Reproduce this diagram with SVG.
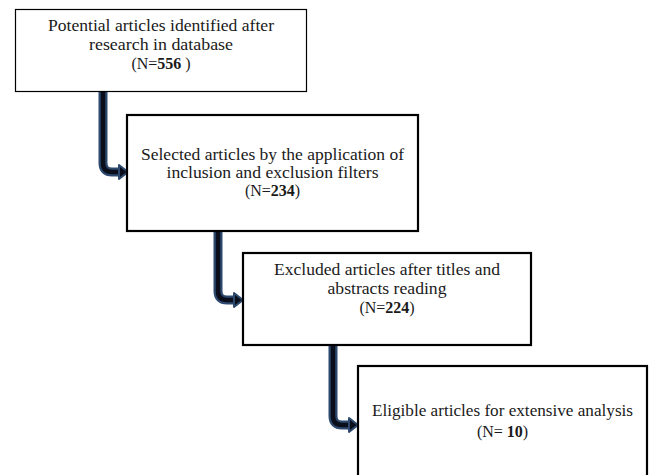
<svg xmlns="http://www.w3.org/2000/svg" width="651" height="475" viewBox="0 0 651 475">
<style>
.box{fill:#fff;stroke:#000}
.b1{stroke-width:1.2}
.b2{stroke-width:2.2}
.t{font-family:"Liberation Serif","Times New Roman",serif;font-size:16px;fill:#1a1a1a;text-anchor:middle}
.b{font-weight:bold}
.co{fill:none;stroke:#2d4a6e;stroke-width:9;stroke-linejoin:round}
.ci{fill:none;stroke:#0b0f1c;stroke-width:4.5;stroke-linejoin:round}
.ho{fill:#0b0f1c;stroke:#2d4a6e;stroke-width:2;stroke-linejoin:round}
</style>
<rect width="651" height="475" fill="#fff"/>
<g id="connectors">
  <g id="c1">
    <path class="co" d="M103,92 V163 Q103,172 112,172 H121"/>
    <path class="ci" d="M103,92 V163 Q103,172 112,172 H121"/>
    <path class="ho" d="M119,165 L128,172 L119,179 Z"/>
  </g>
  <g id="c2">
    <path class="co" d="M218,232 V291 Q218,300 227,300 H236"/>
    <path class="ci" d="M218,232 V291 Q218,300 227,300 H236"/>
    <path class="ho" d="M234,293 L243,300 L234,307 Z"/>
  </g>
  <g id="c3">
    <path class="co" d="M333,345 V416 Q333,425 342,425 H351"/>
    <path class="ci" d="M333,345 V416 Q333,425 342,425 H351"/>
    <path class="ho" d="M349,418 L358,425 L349,432 Z"/>
  </g>
</g>
<g id="n1">
  <rect class="box b1" x="15.5" y="9.5" width="291" height="82"/>
  <text class="t" x="161" y="31" textLength="226" lengthAdjust="spacingAndGlyphs">Potential articles identified after</text>
  <text class="t" x="161" y="50" textLength="144" lengthAdjust="spacingAndGlyphs">research in database</text>
  <text class="t" x="161" y="68.5">(N=<tspan class="b">556</tspan> )</text>
</g>
<g id="n2">
  <rect class="box b2" x="127" y="115" width="291" height="116"/>
  <text class="t" x="272.5" y="160" textLength="263" lengthAdjust="spacingAndGlyphs">Selected articles by the application of</text>
  <text class="t" x="272.5" y="178" textLength="212" lengthAdjust="spacingAndGlyphs">inclusion and exclusion filters</text>
  <text class="t" x="272.5" y="196">(N=<tspan class="b">234</tspan>)</text>
</g>
<g id="n3">
  <rect class="box b2" x="243" y="253" width="288" height="92"/>
  <text class="t" x="387" y="275" textLength="226" lengthAdjust="spacingAndGlyphs">Excluded articles after titles and</text>
  <text class="t" x="387" y="294" textLength="119" lengthAdjust="spacingAndGlyphs">abstracts reading</text>
  <text class="t" x="387" y="313">(N=<tspan class="b">224</tspan>)</text>
</g>
<g id="n4">
  <rect class="box b2" x="358" y="366" width="289" height="120"/>
  <text class="t" x="502.5" y="416" textLength="261" lengthAdjust="spacingAndGlyphs">Eligible articles for extensive analysis</text>
  <text class="t" x="502.5" y="437">(N= <tspan class="b">10</tspan>)</text>
</g>
</svg>
